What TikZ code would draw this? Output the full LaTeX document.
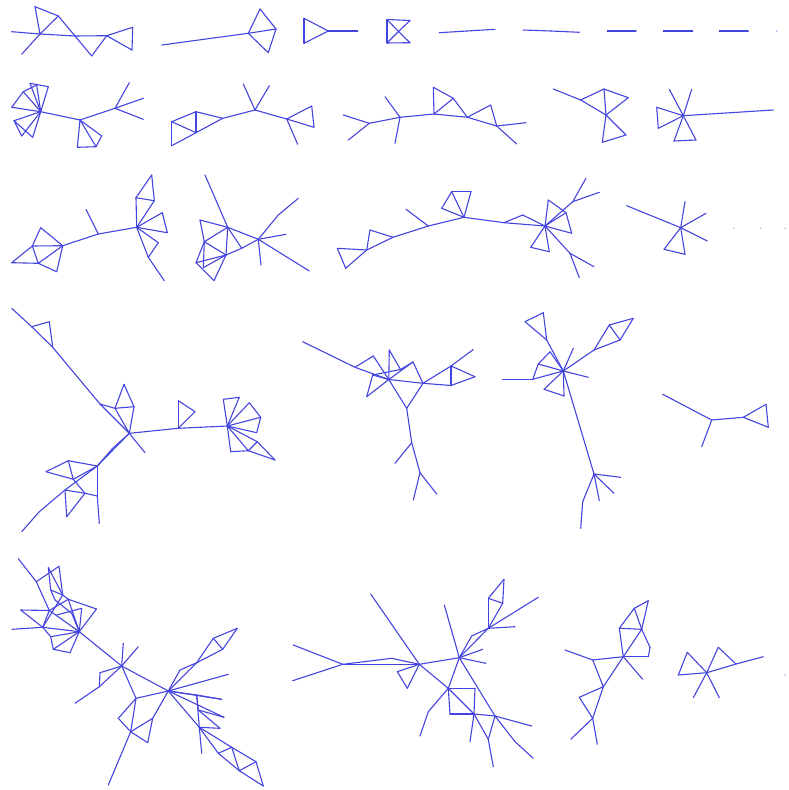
\documentclass[tikz,border=0pt]{standalone}
\definecolor{edgeblue}{RGB}{68,68,222}
\tikzset{
  edge/.style={draw=edgeblue, line width=1.1pt, line cap=round, line join=round},
  lonedot/.style={circle, fill=edgeblue!45, inner sep=0pt, minimum size=1.6pt}
}
\newcommand\mypts[1]{\foreach \n/\x/\y in {#1} {\coordinate (\n) at (\x,\y);}}
\newcommand\myedges[1]{\foreach \u/\v in {#1} {\draw[edge] (\u) -- (\v);}}
\begin{document}
\begin{tikzpicture}[x=1pt,y=-1pt]
\useasboundingbox (0,0) rectangle (788,790);
% ---------- row 1 ----------
\mypts{a1/11.7/31.7, a2/40/34, a3/21.7/54.3, a4/35/6.7, a5/58.3/16, a6/75/36, a7/91.7/56, a8/106.7/35.7, a9/132.7/27.3, a10/132/50}
\myedges{a1/a2, a2/a3, a2/a4, a4/a5, a2/a5, a5/a6, a2/a6, a6/a7, a7/a8, a6/a8, a8/a9, a9/a10, a8/a10}
\mypts{b1/161.7/45, b2/248.3/33.3, b3/260/9, b4/276/29, b5/268.3/52.7}
\myedges{b1/b2, b2/b3, b3/b4, b2/b4, b2/b5, b4/b5}
\mypts{c1/304/18.3, c2/304/43.3, c3/328.3/31, c4/357.7/31}
\myedges{c1/c2, c1/c3, c2/c3, c3/c4}
\mypts{d1/387/19.5, d2/410/20.5, d3/387/43, d4/410/42.7, d5/398.5/31.5}
\myedges{d1/d3, d1/d2, d3/d4, d1/d5, d5/d4, d3/d5, d5/d2}
\mypts{e1/439.3/32.7, e2/467/31, e3/495/29.3, e4/523.3/30, e5/551/31, e6/579.3/32.3, e7/607.3/31, e8/636/31, e9/663.3/31, e10/692.7/31, e11/719.3/31, e12/748.3/31}
\myedges{e1/e2, e2/e3, e4/e5, e5/e6, e7/e8, e9/e10, e11/e12}
\node[lonedot] (z1) at (776.7,31) {};
% ---------- row 2 ----------
\mypts{f1/40.7/111.7, f2/11.7/107.3, f3/23.3/91.7, f4/30/83.3, f5/48.3/86.7, f6/36.7/85, f7/14/120.7, f8/21.7/136, f9/32.7/137.3, f10/80/120, f11/101.7/136, f12/77.3/147.3, f13/96/146.7, f14/115/108.3, f15/129.3/82.7, f16/143.3/98.3, f17/143.3/119.3}
\myedges{f1/f2, f2/f3, f1/f3, f4/f5, f1/f4, f1/f5, f3/f6, f6/f1, f1/f7, f7/f8, f7/f9, f8/f1, f9/f1, f1/f10, f10/f11, f10/f12, f12/f13, f11/f13, f10/f13, f10/f14, f14/f15, f14/f16, f14/f17}
\mypts{g1/171.7/121.7, g2/171.7/145.7, g3/196/111.7, g4/196/132.7, g5/222.7/118.3, g6/255/110, g7/243.3/84, g8/269.3/85.7, g9/286.7/119, g10/311.7/106, g11/314/127.3, g12/297.7/144.3}
\myedges{g1/g2, g1/g3, g3/g4, g1/g4, g2/g4, g3/g5, g4/g5, g5/g6, g6/g7, g6/g8, g6/g9, g9/g10, g10/g11, g9/g11, g9/g12}
\mypts{h1/343.3/115, h2/369.3/123.3, h3/348.3/140, h4/385/96.7, h5/400/117.3, h6/395/143.3, h7/434/114, h8/433.3/87.3, h9/453.3/98.3, h10/467.3/117.3, h11/490.7/105, h12/496.7/126, h13/526/122.7, h14/516.7/144}
\myedges{h1/h2, h2/h3, h2/h5, h4/h5, h5/h6, h5/h7, h7/h8, h8/h9, h7/h9, h9/h10, h7/h10, h10/h11, h11/h12, h10/h12, h12/h13, h12/h14}
\mypts{i1/553.3/89, i2/580.7/100, i3/604/89, i4/628.3/97.7, i5/606/115, i6/626/135, i7/602.3/142.3}
\myedges{i1/i2, i2/i5, i2/i3, i3/i5, i3/i4, i4/i5, i5/i6, i5/i7, i6/i7}
\mypts{j1/683.3/115.7, j2/669.3/89.3, j3/691.7/89.3, j4/656.7/107.3, j5/658.3/128.3, j6/674/141, j7/696/140, j8/773.3/110}
\myedges{j1/j2, j1/j3, j1/j4, j1/j5, j4/j5, j1/j6, j1/j7, j6/j7, j1/j8}
% ---------- row 3 ----------
\mypts{k1/11.7/262.7, k2/32.3/246, k3/40.7/227.7, k4/62.7/245.7, k5/38.3/263.3, k6/56.7/271.7, k7/98.3/234, k8/86/209.3, k9/136.7/227.3, k10/136/197.7, k11/151.7/175, k12/154.3/200.7, k13/162.3/212.7, k14/167.3/232.7, k15/158.3/242.7, k16/148.3/257.3, k17/164.3/280.7}
\myedges{k1/k2, k1/k5, k2/k3, k3/k4, k2/k4, k2/k5, k5/k4, k4/k6, k5/k6, k4/k7, k7/k8, k7/k9, k9/k10, k10/k11, k11/k12, k10/k12, k9/k12, k9/k13, k13/k14, k9/k14, k9/k15, k15/k16, k9/k16, k16/k17}
\mypts{l1/205/175, l2/227.7/227.3, l3/200/220, l4/204.3/241.7, l5/196/262.7, l6/203.3/267.7, l7/214/280.7, l8/226/255, l9/241.7/248.3, l10/258.3/239.3, l11/261/265, l12/278.3/215, l13/298.3/198.3, l14/286/234.3, l15/309.3/271}
\myedges{l1/l2, l3/l2, l3/l4, l4/l2, l2/l8, l4/l8, l4/l5, l4/l6, l5/l8, l6/l8, l5/l7, l7/l8, l2/l9, l8/l9, l9/l10, l2/l10, l10/l15, l10/l11, l10/l12, l12/l13, l10/l14}
\mypts{m1/337.3/248.3, m2/345.7/268.3, m3/366.7/250, m4/370/230, m5/393/237.3, m6/428.3/226, m7/406/209.3, m8/464/217.3, m9/451.7/191.7, m10/471/191.7, m11/441.7/208.3, m12/504/222.7, m14/522.7/215, mh/545/226, ma/548.3/200, mb/566/212.7, mc/571.7/233.3, md/572.7/201.7, me/586/178.3, mf/599.3/192.3, mg/530.7/247.3, mi/549.3/251.7, mj/570/253.3, mk/594/266.7, ml/579.3/277.7}
\myedges{m1/m3, m1/m2, m2/m3, m3/m4, m4/m5, m3/m5, m5/m6, m6/m7, m6/m8, m8/m9, m9/m10, m10/m8, m8/m11, m11/m9, m8/m12, m12/m14, m14/mh, m12/mh, mh/ma, ma/mb, mb/mc, mc/mh, mh/mb, mh/md, md/me, md/mf, mh/mg, mg/mi, mi/mh, mh/mj, mj/mk, mj/ml}
\mypts{n1/680.7/227.7, n2/626.7/205.7, n3/685/201.7, n4/706/213.3, n5/707.3/241, n6/664/249.3, n7/685/254.3}
\myedges{n1/n2, n1/n3, n1/n4, n1/n5, n1/n6, n1/n7, n6/n7}
\node[lonedot] (z2) at (734,228.3) {};
\node[lonedot] (z3) at (760.7,228.3) {};
\node[lonedot] (z4) at (785,228.3) {};
% ---------- row 4 ----------
\mypts{o1/11.7/308.3, o2/31.7/326.7, o3/49.3/321.7, o4/52.7/347.3, o5/100/404, o6/115/408.3, o7/124/384.3, o8/134/406.7, o9/129.3/433.3, o10/145/452.7, o11/178.3/428.3, o12/178.3/400.7, o13/195/411.7, o14/227.3/426, ow1/223.3/399.3, ow2/239.3/397.3, ow3/249.3/402.7, ow4/260.7/417.3, ow5/256.7/432.7, ow6/230.7/451.7, ow7/248.3/450.7, ow8/257.3/441.7, ow9/275/460, o15/97.3/466, ox/112.5/448.5, oA/68.3/460.7, oB/46/471.7, oC/73.3/479.3, oD/65/490, oE/85/493.3, oF/66.7/516.7, oG/97.3/496, oH/99.3/523.3, oJ/39.3/511.7, oI/21.7/531.7}
\myedges{o1/o2, o2/o3, o3/o4, o2/o4, o4/o5, o5/o9, o5/o6, o6/o7, o7/o8, o6/o8, o6/o9, o8/o9, o9/o10, o9/o11, o11/o12, o12/o13, o11/o13, o11/o14, o14/ow1, ow1/ow2, ow2/o14, o14/ow3, ow3/ow4, ow4/ow5, o14/ow4, o14/ow5, o14/ow6, ow6/ow7, o14/ow7, o14/ow8, ow7/ow8, ow8/ow9, ow7/ow9, o9/o15, o9/ox, ox/o15, o15/oA, oA/oB, oB/oC, oA/oC, oC/o15, oC/oE, oD/oE, oD/oF, oF/oE, oE/oG, oG/o15, oG/oH, o15/oD, oD/oJ, oJ/oI}
\mypts{p1/302.7/341.7, p2/355/367.3, p3/373.3/356, p4/372.7/375, p5/366.7/396.7, p6/388.8/379.5, p7/389.3/350, p8/400.5/369.5, p9/413/362, p10/423/383.3, p11/406.7/408.3, p12/451/366, p13/451/385.5, p14/475/376.7, p15/473.3/349.5, p16/411.7/442.7, p17/395/463.3, p18/420/472.7, p19/436.7/494, p20/413.3/500}
\myedges{p1/p2, p2/p3, p3/p6, p2/p6, p4/p5, p5/p6, p4/p6, p4/p8, p7/p6, p7/p8, p8/p9, p9/p6, p9/p10, p6/p10, p10/p11, p6/p11, p11/p16, p10/p12, p12/p13, p13/p10, p12/p14, p13/p14, p12/p15, p16/p17, p16/p18, p18/p19, p18/p20}
\mypts{q1/502.7/379.3, q2/532.7/379.3, q3/563.3/371, q4/538.3/364, q5/550/351.7, q6/546.7/340, q7/525/321.7, q8/543.3/312.7, q9/573.3/348.3, q10/588.3/377.3, q11/544/389.3, q12/564/396, q13/594/350, q14/609.3/325, q15/633.3/318.3, q16/620/340, q17/594/474, q18/620.7/477.3, q19/614/493.3, q20/599.3/500.7, q21/582.7/501.7, q22/580.7/528.3}
\myedges{q1/q2, q2/q3, q2/q4, q4/q3, q4/q5, q5/q3, q6/q3, q6/q7, q7/q8, q8/q6, q3/q9, q3/q10, q3/q11, q11/q12, q12/q3, q3/q13, q13/q14, q14/q15, q15/q16, q13/q16, q14/q16, q3/q17, q17/q18, q17/q19, q17/q20, q17/q21, q21/q22}
\mypts{r1/662.7/394.3, r2/711.7/420, r3/701.7/446.7, r4/743.3/417.3, r5/766/404.3, r6/768.3/427.3}
\myedges{r1/r2, r2/r3, r2/r4, r4/r5, r5/r6, r4/r6}
% ---------- row 5 ----------
\mypts{s1/18.3/558.7, s2/36.3/581.7, s3/48.3/567.5, s4/59/566.3, s5/62.7/595, s6/50.7/590, s7/55/600, s8/49.3/610.5, s9/20.7/610, s10/12/629.3, s11/42.7/627.3, s12/68.3/599.3, s13/71.7/613.3, s14/81.7/608.3, s15/96.5/609, s16/79.3/631.7, s17/56.7/615, s18/53.3/649.3, s19/70/652.7, s20/50.7/636.7, s21/121.7/666, s22/123.3/643.3, s23/138.3/646.7, s24/100/672.7, s25/99.3/686.7, s26/75/703.3, s27/136/698.3, s28/118.3/718.3, s29/130.7/731.7, s30/147.7/742.7, s31/152.7/718.3, s32/108.3/785, s33/168.3/691, s34/180/670, s35/196.7/662.7, s36/213.3/638.3, s37/237.3/628.3, s38/222.7/649.3, s39/228.3/674.3, s40/196.7/695, s41/221.7/699.3, s42/198.3/710, s43/224/717.3, s44/220/728.3, s45/199.3/727.3, s46/201.7/753.3, s47/218.3/753.3, s48/231.7/747.3, s49/239.3/770.7, s50/256/761.7, s51/263.3/786}
\myedges{s1/s2, s2/s4, s3/s5, s4/s5, s2/s8, s6/s5, s6/s7, s9/s8, s8/s11, s9/s11, s10/s11, s11/s16, s8/s12, s12/s15, s15/s16, s12/s16, s13/s16, s8/s16, s14/s16, s17/s14, s5/s12, s11/s5, s3/s6, s7/s13, s20/s16, s18/s16, s18/s19, s19/s16, s20/s18, s11/s20, s16/s21, s21/s22, s21/s23, s21/s24, s24/s25, s21/s25, s25/s26, s21/s27, s21/s33, s27/s28, s28/s29, s27/s29, s29/s30, s30/s31, s31/s29, s27/s33, s31/s33, s29/s32, s33/s34, s34/s35, s33/s35, s35/s36, s36/s37, s37/s38, s36/s38, s38/s35, s33/s39, s33/s40, s40/s41, s33/s41, s40/s42, s42/s43, s33/s43, s42/s44, s40/s45, s45/s44, s33/s45, s45/s46, s45/s47, s47/s48, s45/s48, s47/s49, s48/s49, s48/s50, s49/s50, s50/s51, s49/s51}
\mypts{t1/293.3/645, t2/292.7/680.7, t3/342.7/664.3, t4/391.7/658.3, t5/419.3/664.3, t6/370.7/594, t7/397.3/671.7, t8/407.3/688.3, t9/459.3/657.7, t10/444.3/605, t11/482.7/649.3, t12/486/663.3, t13/471.7/636, t14/488.3/628.3, t15/488.3/598.3, t16/504/579.3, t17/502.7/603.3, t18/515/626.7, t19/538.3/597.3, t20/448.3/688.3, t21/475/688.3, t22/450/714, t23/474/714, t24/495/716, t25/531.7/726, t26/428.3/711.7, t27/420/736, t28/470/741.7, t29/488.3/739.3, t30/493.3/766.7, t31/515/741.7, t32/533.3/758.3}
\myedges{t1/t3, t2/t3, t3/t4, t4/t5, t3/t5, t6/t5, t5/t7, t7/t8, t8/t5, t5/t9, t9/t10, t9/t11, t9/t12, t9/t13, t13/t14, t9/t14, t14/t15, t15/t16, t16/t17, t15/t17, t17/t14, t14/t18, t14/t19, t5/t20, t9/t20, t20/t21, t20/t22, t22/t23, t21/t23, t20/t23, t9/t24, t23/t24, t24/t25, t20/t26, t26/t27, t23/t28, t23/t29, t29/t30, t24/t29, t24/t31, t31/t32}
\mypts{u1/565/650, u2/592.7/660, u3/623.3/656.7, u4/619.3/628.3, u5/634.3/608.3, u6/648.3/600.7, u7/641.7/629.3, u8/650/647.3, u9/648.3/656.7, u10/642.7/679.3, u11/603.3/686.7, u12/579.3/697.3, u13/592.7/718.3, u14/570.7/739.3, u15/597.3/744.3}
\myedges{u1/u2, u2/u3, u2/u11, u3/u11, u3/u4, u4/u5, u5/u6, u6/u7, u4/u7, u5/u7, u3/u7, u7/u8, u8/u9, u3/u9, u3/u10, u11/u12, u12/u13, u11/u13, u13/u14, u13/u15}
\mypts{v1/706.7/672.7, v2/687.3/652.3, v3/678.3/675, v4/718.3/647.3, v5/736/664, v6/763.3/656.7, v7/693.3/697.7, v8/719.3/697.7}
\myedges{v1/v2, v2/v3, v3/v1, v1/v4, v4/v5, v1/v5, v5/v6, v1/v7, v1/v8}
\node[lonedot] (z5) at (785,675) {};
\end{tikzpicture}
\end{document}
